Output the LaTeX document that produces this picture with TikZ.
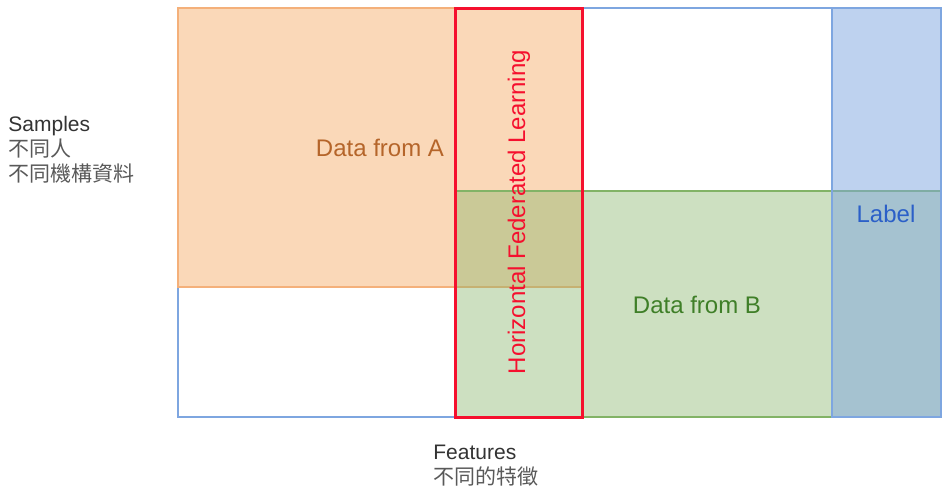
\documentclass[tikz,border=0pt]{standalone}
\usepackage{fontspec}
\setmainfont{Liberation Sans}
\newfontfamily\cjk{Noto Sans CJK TC}
\usetikzlibrary{positioning}
\definecolor{tblblue}{HTML}{7EA6E0}
\definecolor{afill}{HTML}{FAD8B8}
\definecolor{aline}{HTML}{F4B07A}
\definecolor{atext}{HTML}{B5652A}
\definecolor{bline}{HTML}{82B366}
\definecolor{btext}{HTML}{3F7F28}
\definecolor{ltext}{HTML}{2B5FC8}
\definecolor{hflred}{HTML}{F5102E}
\definecolor{dark}{HTML}{333333}
\definecolor{soft}{HTML}{595959}
\tikzset{
    % Define style for the data blocks
    block/.style={
           rectangle,
           anchor=north west,
           inner sep=0pt,
           outer sep=0pt,
           line width=1pt},
    table/.style={block, draw=tblblue, fill=white},
    dataA/.style={block, draw=aline, fill=afill},
    dataB/.style={block, draw=bline, fill=bline, fill opacity=0.4},
    labelcol/.style={block, draw=tblblue, fill=tblblue, fill opacity=0.5},
    hfl/.style={block, draw=hflred, line width=1.5pt},
    % Define style for texts
    inbox/.style={font=\fontsize{12}{14}\selectfont, inner sep=0pt},
    axis/.style={font=\fontsize{10.5}{12.5}\selectfont, align=left, inner sep=0pt, anchor=west}
}
\begin{document}
\begin{tikzpicture}[x=1pt,y=1pt]
\useasboundingbox (0,0) rectangle (476,-249.5);

\node[table, minimum width=381.5pt, minimum height=204.5pt] (all) at (89,-4) {};
\node[dataA, minimum width=202pt, minimum height=139.5pt] (A) at (89,-4) {};
\node[dataB, minimum width=243pt, minimum height=113pt] (B) at (227.5,-95.5) {};
\node[labelcol, minimum width=54.5pt, minimum height=204.5pt] (lab) at (416,-4) {};
\node[hfl, minimum width=63.5pt, minimum height=204.5pt] (H) at (227.5,-4) {};

\node[inbox, text=atext] (Atext) at (190,-74) {Data from A};
\node[inbox, text=btext] (Btext) at (348.5,-152.5) {Data from B};
\node[inbox, text=ltext] (Ltext) at (443,-107) {Label};
\node[inbox, text=hflred, rotate=90] (Htext) at (259.5,-106) {Horizontal Federated Learning};

\node[axis] (samples) at (4,-75) {\textcolor{dark}{Samples}\\ \textcolor{soft}{\cjk 不同人}\\ \textcolor{soft}{\cjk 不同機構資料}};
\node[axis] (features) at (216.5,-233) {\textcolor{dark}{Features}\\ \textcolor{soft}{\cjk 不同的特徵}};
\end{tikzpicture}
\end{document}
